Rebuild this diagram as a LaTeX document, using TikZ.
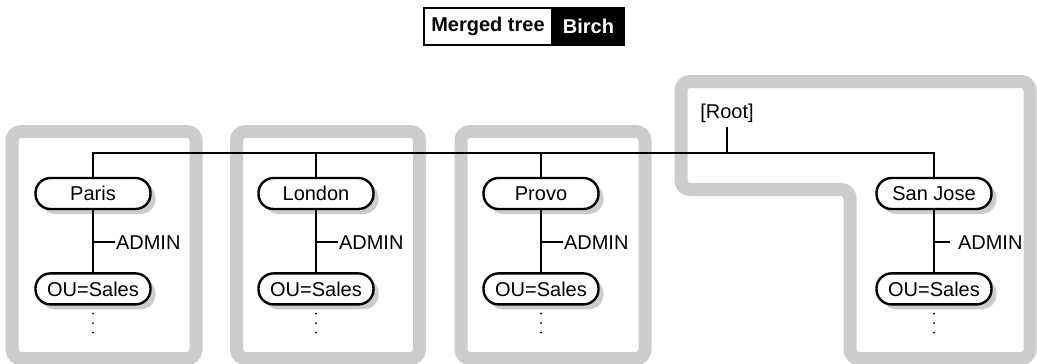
\documentclass[tikz,border=0pt]{standalone}
\usepackage{fontspec}
\setmainfont{Liberation Sans}
\usetikzlibrary{positioning,calc,shadows}

\tikzset{
  zone/.style={draw=gray!40,line width=13pt,rounded corners=9pt},
  site/.style={draw,line width=2.4pt,fill=white,rounded corners=15pt,
    minimum width=115pt,minimum height=31pt,inner sep=0pt,
    drop shadow={shadow xshift=5pt,shadow yshift=-5pt,fill=gray!40,opacity=1}},
  tag/.style={inner sep=0pt,anchor=west},
}

\begin{document}
\begin{tikzpicture}[x=1pt,y=-1pt,node distance=62pt,line width=2pt,
  font=\fontsize{20}{24}\selectfont]
\useasboundingbox (0,0) rectangle (1037,364);

% grey frames round the partitions
\draw[zone] (12,131.5) rectangle (196,358.5);
\draw[zone] (236.5,131.5) rectangle (419.5,358.5);
\draw[zone] (461,131.5) rectangle (645,358.5);
\draw[zone] (681,81.5) -- (1030,81.5) -- (1030,358.5) -- (850,358.5)
  -- (850,189.5) -- (681,189.5) -- cycle;

% heading
\node[draw,fill=white,outer sep=0pt,minimum width=128pt,minimum height=37pt,
  font=\bfseries\fontsize{20}{24}\selectfont] (merged) at (488,26.5) {Merged tree};
\node[fill=black,text=white,outer sep=0pt,minimum width=73pt,minimum height=39pt,
  right=0pt of merged,font=\bfseries\fontsize{20}{24}\selectfont] (birch) {Birch};

% tree
\node (root) at (727,113) {[Root]};
\coordinate (bus) at (0,153);

\node[site] (paris) at (93,193.5) {Paris};
\node[site,below=of paris] (parisou) {OU=Sales};
\node[tag] (parisadm) at ($(paris.south)!0.5!(parisou.north)+(22,1)$) {ADMIN};

\node[site] (london) at (316,193.5) {London};
\node[site,below=of london] (londonou) {OU=Sales};
\node[tag] (londonadm) at ($(london.south)!0.5!(londonou.north)+(22,1)$) {ADMIN};

\node[site] (provo) at (541,193.5) {Provo};
\node[site,below=of provo] (provoou) {OU=Sales};
\node[tag] (provoadm) at ($(provo.south)!0.5!(provoou.north)+(22,1)$) {ADMIN};

\node[site] (sanjose) at (934,193.5) {San Jose};
\node[site,below=of sanjose] (sanjoseou) {OU=Sales};
\node[tag] (sanjoseadm) at ($(sanjose.south)!0.5!(sanjoseou.north)+(23,1)$) {ADMIN};

\draw (paris) -- (paris |- bus) -- (sanjose |- bus) -- (sanjose);
\draw (london) -- (london |- bus);
\draw (provo) -- (provo |- bus);
\draw (root) -- (root |- bus);

\draw (paris) -- (parisou);
\draw (london) -- (londonou);
\draw (provo) -- (provoou);
\draw (sanjose) -- (sanjoseou);

\draw (paris.south |- parisadm) -- (parisadm.west);
\draw (london.south |- londonadm) -- (londonadm.west);
\draw (provo.south |- provoadm) -- (provoadm.west);
\draw (sanjose.south |- sanjoseadm) -- ([xshift=-7pt]sanjoseadm.west);

% more entries below each OU
\foreach \d in {8,17.5,27} {
  \fill (parisou.south) ++(0,\d) circle (1.1);
  \fill (londonou.south) ++(0,\d) circle (1.1);
  \fill (provoou.south) ++(0,\d) circle (1.1);
  \fill (sanjoseou.south) ++(0,\d) circle (1.1);
}
\end{tikzpicture}
\end{document}
